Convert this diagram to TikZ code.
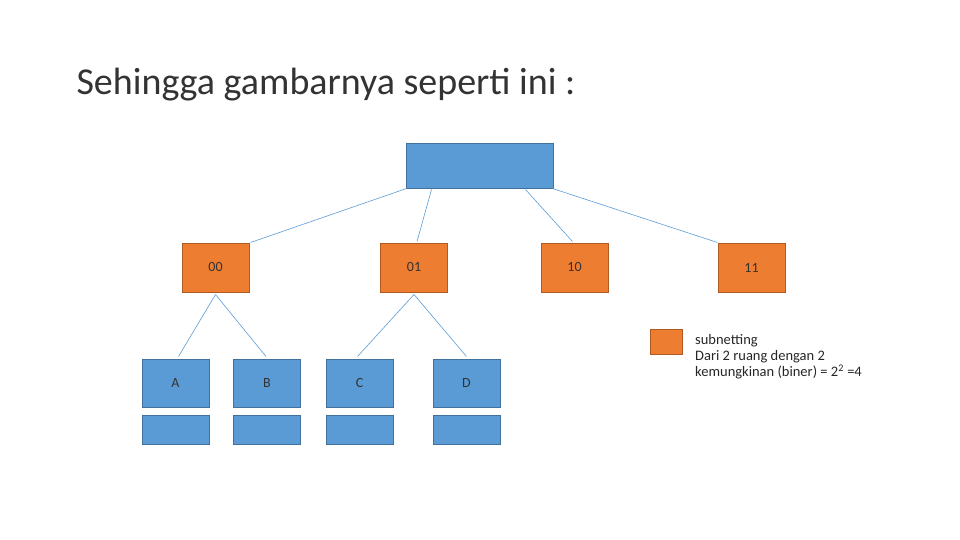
\documentclass[tikz,border=0pt]{standalone}
\usepackage{fontspec}
\setmainfont{Carlito}
\usetikzlibrary{calc}
\definecolor{bfill}{HTML}{5B9BD5}\definecolor{bdraw}{HTML}{41719C}
\definecolor{ofill}{HTML}{ED7D31}\definecolor{odraw}{HTML}{AE5A21}
\definecolor{ln}{HTML}{5B9BD5}
\begin{document}
\begin{tikzpicture}[x=1pt,y=-1pt,
 bb/.style={draw=bdraw,fill=bfill,line width=1pt,inner sep=0,minimum width=67pt,minimum height=48pt,font=\fontsize{14}{16}\selectfont,text=black!80},
 ob/.style={draw=odraw,fill=ofill,line width=1pt,inner sep=0,minimum width=67pt,minimum height=49pt,font=\fontsize{14}{16}\selectfont,text=black!80},
 sb/.style={draw=bdraw,fill=bfill,line width=1pt,inner sep=0,minimum width=67pt,minimum height=29pt},
 cn/.style={draw=ln,line width=0.6pt}]
\useasboundingbox (0,0) rectangle (960,540);
\node[anchor=base west,font=\fontsize{38}{40}\selectfont,text=black!80] (t) at (73,95) {Sehingga gambarnya seperti ini :};
\node[bb,minimum width=147pt,minimum height=44pt] (top) at (479.5,166) {};
\node[ob] (n00) at (215.5,267.5) {00};
\node[ob] (n01) at (414,267.5) {01};
\node[ob] (n10) at (574.5,267.5) {10};
\node[ob] (n11) at (751.5,267.5) {11};
\node[bb] (A) at (175.5,383) {A};
\node[bb] (B) at (267,383) {B};
\node[bb] (C) at (359.5,383) {C};
\node[bb] (D) at (466.5,383) {D};
\node[sb] (a2) at (175.5,429.5) {};
\node[sb] (b2) at (267,429.5) {};
\node[sb] (c2) at (359.5,429.5) {};
\node[sb] (d2) at (466.5,429.5) {};
\node[draw=odraw,fill=ofill,line width=1pt,minimum width=32pt,minimum height=25pt,inner sep=0] (leg) at (666,341.5) {};
\node[anchor=north west,align=left,font=\fontsize{14.5}{16}\selectfont,text=black!85,inner sep=0] (lt) at (695,334)
 {subnetting\\ Dari 2 ruang dengan 2\\ kemungkinan (biner) = 2\textsuperscript{2} =4};
\draw[cn] ($(n00.north east)+(1,0)$) -- ($(top.south west)+(1,0)$);
\draw[cn] ($(n01.north)+(3,-1)$) -- ($(top.south west)+(26,1)$);
\draw[cn] ($(n10.north)+(-2,-1)$) -- ($(top.south west)+(120,1)$);
\draw[cn] (n11.north west) -- ($(top.south east)+(-1,0)$);
\draw[cn] ($(n00.south)+(0,2)$) -- ($(A.north)+(3,-2)$);
\draw[cn] ($(n00.south)+(0,2)$) -- ($(B.north)+(-1,-2)$);
\draw[cn] ($(n01.south)+(0,2)$) -- ($(C.north)+(-2,-2)$);
\draw[cn] ($(n01.south)+(0,2)$) -- ($(D.north)+(0,-2)$);
\end{tikzpicture}
\end{document}
